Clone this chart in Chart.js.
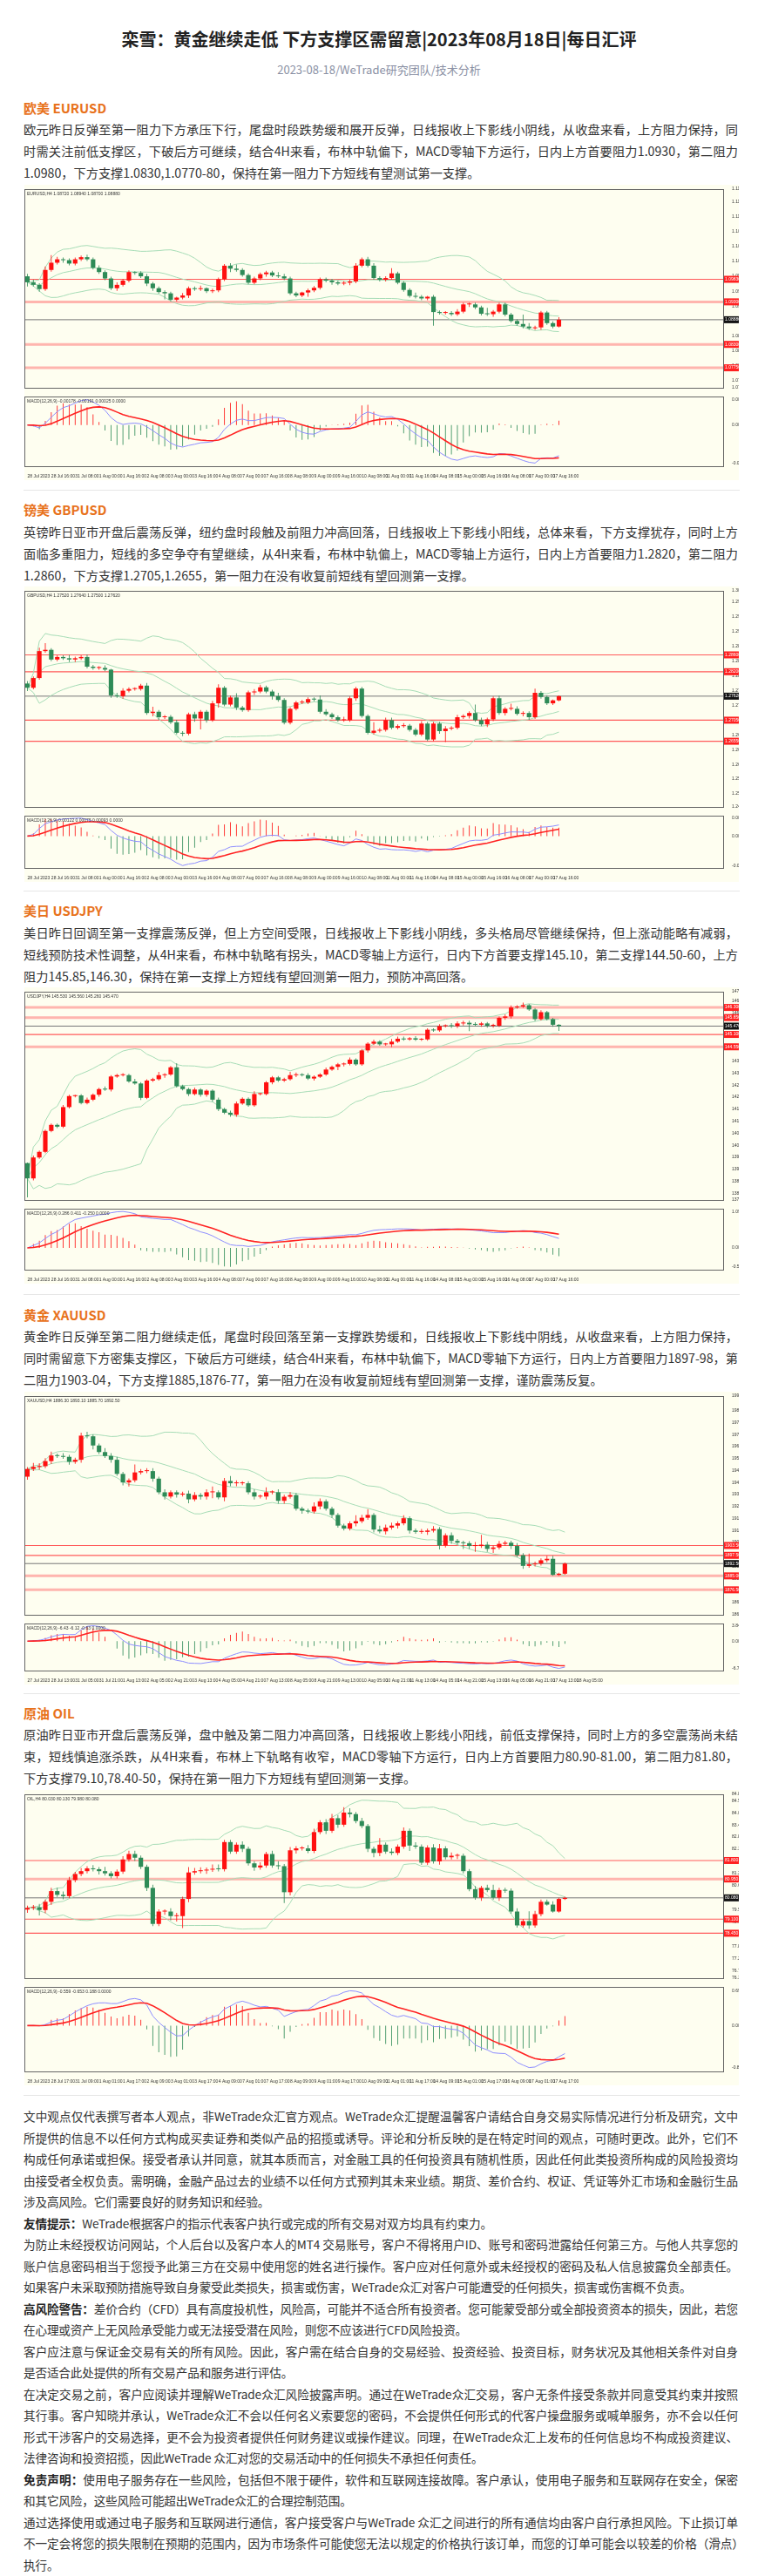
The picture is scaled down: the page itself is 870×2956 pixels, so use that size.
<!DOCTYPE html>
<html><head><meta charset="utf-8">
<script src="https://cdn.jsdelivr.net/npm/chart.js@4/dist/chart.umd.min.js"></script>
<style>
body{margin:0;background:#fff;font-family:"Noto Sans CJK SC","Noto Sans",sans-serif;color:#333;}
#page{position:relative;width:870px;height:2956px;overflow:hidden;}
.abs{position:absolute;left:27px;width:820px;}
.title{top:30px;left:0;width:870px;text-align:center;font-size:20px;font-weight:bold;color:#222;}
.sub{top:70px;left:0;width:870px;text-align:center;font-size:13px;color:#8a90a4;}
.h{font-size:15px;font-weight:bold;color:#e8721c;line-height:25px;}
.p{font-size:14.2px;line-height:25px;text-align:justify;color:#333;}
.disc{font-size:13.6px;letter-spacing:-0.15px;line-height:24.5px;}
.sep{height:1px;background:#e6e6e6;left:27px;width:822px;}
.blk{position:absolute;left:28px;width:820px;background:#fefef0;}
.blk canvas{display:block;}
b{color:#222;}
</style></head><body><div id="page">
<div class="abs title">栾雪：黄金继续走低 下方支撑区需留意|2023年08月18日|每日汇评</div>
<div class="abs sub">2023-08-18/WeTrade研究团队/技术分析</div>

<div class="abs h" style="top:111px">欧美 EURUSD</div>
<div class="abs p" style="top:136px">欧元昨日反弹至第一阻力下方承压下行，尾盘时段跌势缓和展开反弹，日线报收上下影线小阴线，从收盘来看，上方阻力保持，同时需关注前低支撑区，下破后方可继续，结合4H来看，布林中轨偏下，MACD零轴下方运行，日内上方首要阻力1.0930，第二阻力1.0980，下方支撑1.0830,1.0770-80，保持在第一阻力下方短线有望测试第一支撑。</div>
<div class="blk" style="top:212px"><canvas id="m0" width="820" height="238"></canvas><canvas id="d0" width="820" height="101"></canvas></div>
<div class="abs sep" style="top:562px"></div>

<div class="abs h" style="top:572px">镑美 GBPUSD</div>
<div class="abs p" style="top:598px">英镑昨日亚市开盘后震荡反弹，纽约盘时段触及前阻力冲高回落，日线报收上下影线小阳线，总体来看，下方支撑犹存，同时上方面临多重阻力，短线的多空争夺有望继续，从4H来看，布林中轨偏上，MACD零轴上方运行，日内上方首要阻力1.2820，第二阻力1.2860，下方支撑1.2705,1.2655，第一阻力在没有收复前短线有望回测第一支撑。</div>
<div class="blk" style="top:673px"><canvas id="m1" width="820" height="258"></canvas><canvas id="d1" width="820" height="81"></canvas></div>
<div class="abs sep" style="top:1022px"></div>

<div class="abs h" style="top:1032px">美日 USDJPY</div>
<div class="abs p" style="top:1058px">美日昨日回调至第一支撑震荡反弹，但上方空间受限，日线报收上下影线小阴线，多头格局尽管继续保持，但上涨动能略有减弱，短线预防技术性调整，从4H来看，布林中轨略有拐头，MACD零轴上方运行，日内下方首要支撑145.10，第二支撑144.50-60，上方阻力145.85,146.30，保持在第一支撑上方短线有望回测第一阻力，预防冲高回落。</div>
<div class="blk" style="top:1133px"><canvas id="m2" width="820" height="249"></canvas><canvas id="d2" width="820" height="91"></canvas></div>
<div class="abs sep" style="top:1485px"></div>

<div class="abs h" style="top:1496px">黄金 XAUUSD</div>
<div class="abs p" style="top:1521px">黄金昨日反弹至第二阻力继续走低，尾盘时段回落至第一支撑跌势缓和，日线报收上下影线中阴线，从收盘来看，上方阻力保持，同时需留意下方密集支撑区，下破后方可继续，结合4H来看，布林中轨偏下，MACD零轴下方运行，日内上方首要阻力1897-98，第二阻力1903-04，下方支撑1885,1876-77，第一阻力在没有收复前短线有望回测第一支撑，谨防震荡反复。</div>
<div class="blk" style="top:1597px"><canvas id="m3" width="820" height="261"></canvas><canvas id="d3" width="820" height="75"></canvas></div>
<div class="abs sep" style="top:1943px"></div>

<div class="abs h" style="top:1953px">原油 OIL</div>
<div class="abs p" style="top:1978px">原油昨日亚市开盘后震荡反弹，盘中触及第二阻力冲高回落，日线报收上影线小阳线，前低支撑保持，同时上方的多空震荡尚未结束，短线慎追涨杀跌，从4H来看，布林上下轨略有收窄，MACD零轴下方运行，日内上方首要阻力80.90-81.00，第二阻力81.80，下方支撑79.10,78.40-50，保持在第一阻力下方短线有望回测第一支撑。</div>
<div class="blk" style="top:2054px"><canvas id="m4" width="820" height="221"></canvas><canvas id="d4" width="820" height="118"></canvas></div>
<div class="abs sep" style="top:2404px"></div>

<div class="abs p disc" style="top:2416px">文中观点仅代表撰写者本人观点，非WeTrade众汇官方观点。WeTrade众汇提醒温馨客户请结合自身交易实际情况进行分析及研究，文中所提供的信息不以任何方式构成买卖证券和类似产品的招揽或诱导。评论和分析反映的是在特定时间的观点，可随时更改。此外，它们不构成任何承诺或担保。接受者承认并同意，就其本质而言，对金融工具的任何投资具有随机性质，因此任何此类投资所构成的风险投资均由接受者全权负责。需明确，金融产品过去的业绩不以任何方式预判其未来业绩。期货、差价合约、权证、凭证等外汇市场和金融衍生品涉及高风险。它们需要良好的财务知识和经验。<br>
<b>友情提示：</b>WeTrade根据客户的指示代表客户执行或完成的所有交易对双方均具有约束力。<br>
为防止未经授权访问网站，个人后台以及客户本人的MT4 交易账号，客户不得将用户ID、账号和密码泄露给任何第三方。与他人共享您的账户信息密码相当于您授予此第三方在交易中使用您的姓名进行操作。客户应对任何意外或未经授权的密码及私人信息披露负全部责任。如果客户未采取预防措施导致自身蒙受此类损失，损害或伤害，WeTrade众汇对客户可能遭受的任何损失，损害或伤害概不负责。<br>
<b>高风险警告：</b>差价合约（CFD）具有高度投机性，风险高，可能并不适合所有投资者。您可能蒙受部分或全部投资资本的损失，因此，若您在心理或资产上无风险承受能力或无法接受潜在风险，则您不应该进行CFD风险投资。<br>
客户应注意与保证金交易有关的所有风险。因此，客户需在结合自身的交易经验、投资经验、投资目标，财务状况及其他相关条件对自身是否适合此处提供的所有交易产品和服务进行评估。<br>
在决定交易之前，客户应阅读并理解WeTrade众汇风险披露声明。通过在WeTrade众汇交易，客户无条件接受条款并同意受其约束并按照其行事。客户知晓并承认，WeTrade众汇不会以任何名义索要您的密码，不会提供任何形式的代客户操盘服务或喊单服务，亦不会以任何形式干涉客户的交易选择，更不会为投资者提供任何财务建议或操作建议。同理，在WeTrade众汇上发布的任何信息均不构成投资建议、法律咨询和投资招揽，因此WeTrade 众汇对您的交易活动中的任何损失不承担任何责任。<br>
<b>免责声明：</b>使用电子服务存在一些风险，包括但不限于硬件，软件和互联网连接故障。客户承认，使用电子服务和互联网存在安全，保密和其它风险，这些风险可能超出WeTrade众汇的合理控制范围。<br>
通过选择使用或通过电子服务和互联网进行通信，客户接受客户与WeTrade 众汇之间进行的所有通信均由客户自行承担风险。下止损订单不一定会将您的损失限制在预期的范围内，因为市场条件可能使您无法以规定的价格执行该订单，而您的订单可能会以较差的价格（滑点）执行。</div>
</div>
<script>
// ---------- DATA ----------
const eurOpen0 = 1.0990;
const eurCloses = [1.0976,1.0970,1.0960,1.1005,1.1022,1.1030,1.1028,1.1020,1.1030,1.1035,1.1030,1.1010,1.1000,1.0985,1.0962,1.0970,1.0980,1.1000,1.0998,1.0990,1.0973,1.0962,1.0953,1.0950,1.0935,1.0940,1.0945,1.0962,1.0960,1.0962,1.0955,1.0957,1.0983,1.1015,1.1008,1.1005,1.0993,1.0975,1.0985,1.0995,1.0999,1.0992,1.0990,1.0985,1.0950,1.0945,1.0952,1.0957,1.0963,1.0983,1.0980,1.0976,1.0973,1.0975,1.0978,1.1015,1.1030,1.1015,1.0986,1.0982,1.0986,1.0997,1.0975,1.0958,1.0944,1.0942,1.0938,1.0942,1.0906,1.0904,1.0904,1.0901,1.0907,1.0924,1.0924,1.0917,1.0902,1.0901,1.0907,1.0924,1.0900,1.0885,1.0878,1.0872,1.0868,1.0870,1.0905,1.0880,1.0872,1.0888];
const eurWickUp = "33249322223232232212322221322312223522222243221222222223233226222421222232222722222b422223";
const eurWickDn = "52322232222222232222332722232222224222223222222522232232222222222222g22222322232222222322";
const eurLevels = [1.0983,1.0930,1.0830,1.0775];
const eurTicks = ["28 Jul 2023","28 Jul 16:00","31 Jul 08:00","1 Aug 00:00","1 Aug 16:00","2 Aug 08:00","3 Aug 00:00","3 Aug 16:00","4 Aug 08:00","7 Aug 00:00","7 Aug 16:00","8 Aug 08:00","9 Aug 00:00","9 Aug 16:00","10 Aug 08:00","11 Aug 00:00","11 Aug 16:00","14 Aug 08:00","15 Aug 00:00","15 Aug 16:00","16 Aug 08:00","17 Aug 00:00","17 Aug 16:00"];

const gbpOpen0 = 1.2792;
const gbpCloses = [1.2782,1.2805,1.2869,1.2872,1.2849,1.2855,1.2852,1.2849,1.2852,1.2855,1.2832,1.2829,1.2829,1.2825,1.2764,1.2762,1.2775,1.2779,1.2779,1.2787,1.2722,1.2725,1.2712,1.2713,1.2700,1.2675,1.2673,1.2719,1.2709,1.2725,1.2705,1.2745,1.2782,1.2742,1.2759,1.2735,1.2729,1.2771,1.2773,1.2783,1.2773,1.2762,1.2753,1.2699,1.2732,1.2747,1.2747,1.2755,1.2754,1.2725,1.2719,1.2712,1.2705,1.2705,1.2757,1.2780,1.2715,1.2675,1.2680,1.2682,1.2705,1.2687,1.2691,1.2692,1.2682,1.2671,1.2697,1.2659,1.2697,1.2679,1.2685,1.2687,1.2712,1.2715,1.2722,1.2705,1.2695,1.2707,1.2757,1.2722,1.2732,1.2732,1.2720,1.2722,1.2712,1.2770,1.2760,1.2745,1.2752,1.2762];
const gbpWickUp = "3248222422322313322236222322322342252233224222322532242222a2332322322232322a322326322522";
const gbpWickDn = "42222223322222323222243222324d3252232232242222222222222322222222222223d222322322322332222";
const gbpLevels = [1.2860,1.2820,1.2705,1.2655];
const gbpTicks = eurTicks;

const jpyOpen0 = 139.38;
const jpyCloses = [138.70,139.63,139.88,140.81,141.08,141.00,141.87,142.36,142.39,142.05,142.20,142.42,142.67,142.65,143.23,143.29,143.29,143.01,142.92,142.28,143.05,143.11,143.29,143.32,143.64,142.80,142.67,142.45,142.65,142.42,142.60,142.20,141.78,141.62,141.53,142.03,142.24,141.95,142.45,142.45,142.97,143.19,143.05,143.11,143.29,143.32,143.29,143.14,143.22,143.32,143.54,143.66,143.77,143.79,143.98,143.77,144.39,144.69,144.78,144.66,144.66,144.78,144.91,144.88,144.93,144.87,144.88,145.31,145.28,145.47,145.49,145.47,145.59,145.62,145.55,145.53,145.59,145.49,145.49,145.84,145.90,146.30,146.34,146.40,146.21,145.78,146.09,145.78,145.53,145.47];
const jpyWickUp = "13222232123224223242225226223222323322422222532322322232223224332322232433332232332422322";
const jpyWickDn = "s3222222222232322223222422232333323322222322232232225322232224222222222333a233323322232237";
const jpyLevels = [146.30,145.85,145.10,144.55];
const jpyTicks = eurTicks;

const xauOpen0 = 1945.4;
const xauCloses = [1950.1,1951.4,1951.8,1954.9,1958.3,1958.0,1957.5,1954.5,1955.7,1970.4,1970.0,1964.4,1960.4,1958.0,1955.7,1947.1,1941.9,1943.2,1948.0,1948.8,1948.8,1944.2,1935.9,1933.3,1935.9,1934.5,1935.1,1931.6,1934.2,1933.3,1935.9,1935.9,1932.8,1942.8,1941.4,1941.4,1941.4,1935.9,1933.3,1933.3,1935.9,1935.9,1930.7,1933.2,1934.2,1925.9,1924.7,1924.2,1927.3,1930.4,1925.9,1922.1,1915.6,1913.8,1917.0,1918.3,1920.4,1922.1,1913.2,1912.1,1914.4,1915.6,1917.0,1920.1,1912.6,1911.8,1911.8,1912.6,1913.5,1903.5,1909.7,1906.3,1905.2,1904.9,1903.2,1903.2,1904.0,1901.4,1902.3,1904.5,1905.2,1903.2,1897.6,1891.1,1892.0,1892.5,1894.5,1895.4,1885.6,1886.3,1892.5];
const xauWickUp = "2433423223422433228233232223323623532232523232224322222636243323223232232224a3232232b2233";
const xauWickDn = "3232322323242232342223232324233624332232323322322323222322323232322324232636234223232222";
const xauLevels = [1903.5,1897.5,1885.0,1876.5];
const xauTicks = ["27 Jul 2023","28 Jul 13:00","31 Jul 05:00","31 Jul 21:00","1 Aug 13:00","2 Aug 05:00","2 Aug 21:00","3 Aug 13:00","4 Aug 05:00","4 Aug 21:00","7 Aug 13:00","8 Aug 05:00","8 Aug 21:00","9 Aug 13:00","10 Aug 05:00","10 Aug 21:00","11 Aug 13:00","14 Aug 05:00","14 Aug 21:00","15 Aug 13:00","16 Aug 05:00","16 Aug 21:00","17 Aug 13:00","18 Aug 05:00"];

const oilOpen0 = 79.54;
const oilCloses = [79.62,79.65,79.52,79.90,80.39,80.22,80.16,80.90,81.18,81.31,81.44,81.40,81.31,81.21,81.08,81.29,81.85,82.10,81.93,81.51,80.54,78.88,79.45,79.45,79.24,79.24,80.03,81.25,81.31,81.34,81.38,81.42,81.40,82.65,82.21,82.53,82.34,81.67,81.48,81.57,82.10,81.57,81.54,80.34,82.27,82.36,82.36,82.24,83.11,83.56,83.17,83.75,83.45,84.01,83.94,83.62,83.39,82.34,82.15,82.53,82.21,82.15,82.44,83.17,82.49,82.44,81.70,82.40,81.76,82.36,81.95,82.02,82.02,81.31,80.48,80.09,80.54,80.44,80.09,80.44,80.41,79.45,78.81,79.01,78.81,79.33,79.90,79.77,79.45,80.03,80.08];
const oilWickUp = "22323333232324223332232233253324422232232342322332343542322623232322342322232352223293223";
const oilWickDn = "32533232222232222232322345b3223222223232223a3322223232322343222252222322322232232222322";
const oilLevels = [81.80,80.95,79.10,78.45];
const oilTicks = ["28 Jul 2023","28 Jul 17:00","31 Jul 09:00","1 Aug 01:00","1 Aug 17:00","2 Aug 09:00","3 Aug 01:00","3 Aug 17:00","4 Aug 09:00","7 Aug 01:00","7 Aug 17:00","8 Aug 09:00","9 Aug 01:00","9 Aug 17:00","10 Aug 09:00","11 Aug 01:00","11 Aug 17:00","14 Aug 09:00","15 Aug 01:00","15 Aug 17:00","16 Aug 09:00","17 Aug 01:00","17 Aug 17:00"];

// ---------- CONFIG (styles/sizes) ----------
const CFG = [
 {id:0,name:"EURUSD,H4",open0:eurOpen0,closes:eurCloses,up:eurWickUp,dn:eurWickDn,unit:0.0002,levels:eurLevels,thick:[0,1,1,1],ticks:eurTicks,ymin:1.0728,ymax:1.1195,step:0.0035,dec:5},
 {id:1,name:"GBPUSD,H4",open0:gbpOpen0,closes:gbpCloses,up:gbpWickUp,dn:gbpWickDn,unit:0.0002,levels:gbpLevels,thick:[0,0,0,0],ticks:gbpTicks,ymin:1.2499,ymax:1.3012,step:0.0035,dec:5},
 {id:2,name:"USDJPY,H4",open0:jpyOpen0,closes:jpyCloses,up:jpyWickUp,dn:jpyWickDn,unit:0.03,levels:jpyLevels,thick:[1,1,0,1],ticks:jpyTicks,ymin:137.74,ymax:147.0,step:0.535,dec:3},
 {id:3,name:"XAUUSD,H4",open0:xauOpen0,closes:xauCloses,up:xauWickUp,dn:xauWickDn,unit:0.6,levels:xauLevels,thick:[0,0,1,1],ticks:xauTicks,ymin:1861.3,ymax:1994.5,step:7.3,dec:2},
 {id:4,name:"OIL,H4",open0:oilOpen0,closes:oilCloses,up:oilWickUp,dn:oilWickDn,unit:0.05,levels:oilLevels,thick:[0,1,0,0],ticks:oilTicks,ymin:76.38,ymax:84.85,step:0.56,dec:3}
];
const SLOTS = 117, UPC='#ff1010', DNC='#2e8b57', BB='#a6dcb6';

function ema(a,n){const k=2/(n+1);let r=[],p=a[0];a.forEach((v,i)=>{p=i?v*k+p*(1-k):v;r.push(p);});return r;}
function fixW(s){s.width=18;}

CFG.forEach(c=>{
  const n=c.closes.length;
  const opens=c.closes.map((v,i)=>i?c.closes[i-1]:c.open0);
  const hi=c.closes.map((v,i)=>Math.max(v,opens[i])+parseInt(c.up[i]||'1',36)*c.unit);
  const lo=c.closes.map((v,i)=>Math.min(v,opens[i])-parseInt(c.dn[i]||'1',36)*c.unit);
  const cols=c.closes.map((v,i)=>v>=opens[i]?UPC:DNC);
  const labels=[];for(let i=0;i<SLOTS;i++)labels.push(i%4===0&&c.ticks[i/4]?c.ticks[i/4]:'');
  const mid=[],upB=[],loB=[];
  c.closes.forEach((v,i)=>{const w=c.closes.slice(Math.max(0,i-19),i+1);const m=w.reduce((a,b)=>a+b,0)/w.length;const sd=Math.sqrt(w.reduce((a,b)=>a+(b-m)*(b-m),0)/w.length);mid.push(m);upB.push(m+2*sd);loB.push(m-2*sd);});
  const last=c.closes[n-1];
  const lvlPlugin={id:'lv'+c.id,beforeDatasetsDraw(ch){const y=ch.scales.y,a=ch.chartArea,x=ch.ctx;x.save();
      c.levels.forEach((L,j)=>{const py=y.getPixelForValue(L);x.strokeStyle=c.thick[j]?'rgba(255,120,120,0.55)':'#ff5a5a';x.lineWidth=c.thick[j]?3:1.2;x.beginPath();x.moveTo(a.left,py);x.lineTo(a.right,py);x.stroke();});
      const py=y.getPixelForValue(last);x.strokeStyle='#777';x.lineWidth=1;x.beginPath();x.moveTo(a.left,py);x.lineTo(a.right,py);x.stroke();x.restore();},
    afterDraw(ch){const y=ch.scales.y,a=ch.chartArea,x=ch.ctx;x.save();x.font='5px sans-serif';x.textBaseline='middle';
      c.levels.forEach(L=>{const py=y.getPixelForValue(L);x.fillStyle='#ff2020';x.fillRect(a.right+1,py-4,17,8);x.fillStyle='#fff';x.fillText(L.toFixed(c.dec),a.right+2,py);});
      const py=y.getPixelForValue(last);x.fillStyle='#111';x.fillRect(a.right+1,py-4,17,8);x.fillStyle='#fff';x.fillText(last.toFixed(c.dec),a.right+2,py);
      x.strokeStyle='#666';x.lineWidth=1;x.strokeRect(a.left+0.5,a.top+0.5,a.right-a.left,a.bottom-a.top);
      x.fillStyle='#333';x.font='5px sans-serif';x.fillText(c.name+' '+[opens[n-1],hi[n-1],lo[n-1],last].map(v=>v.toFixed(c.dec)).join(' '),a.left+3,a.top+6);x.restore();}};
  new Chart(document.getElementById('m'+c.id),{type:'bar',
    data:{labels,datasets:[
      {type:'line',data:upB,borderColor:BB,borderWidth:1,pointRadius:0,order:5},
      {type:'line',data:mid,borderColor:BB,borderWidth:1,pointRadius:0,order:5},
      {type:'line',data:loB,borderColor:BB,borderWidth:1,pointRadius:0,order:5},
      {data:lo.map((v,i)=>[v,hi[i]]),backgroundColor:cols,barPercentage:0.12,categoryPercentage:1,grouped:false,order:3},
      {data:opens.map((v,i)=>[v,c.closes[i]]),backgroundColor:cols,barPercentage:0.75,categoryPercentage:1,grouped:false,minBarLength:1,order:1}]},
    options:{responsive:false,animation:false,events:[],layout:{padding:{top:1,bottom:1,left:0,right:0}},
      plugins:{legend:{display:false},tooltip:{enabled:false}},
      scales:{x:{display:false,offset:true},
        y:{position:'right',min:c.ymin,max:c.ymax,afterFit:fixW,grid:{display:false},border:{display:false},
          ticks:{stepSize:c.step,font:{size:5},color:'#333',padding:2,callback:v=>(+v).toFixed(c.dec)}}}},
    plugins:[lvlPlugin]});
  const e12=ema(c.closes,12),e26=ema(c.closes,26);const macd=e12.map((v,i)=>v-e26[i]);const sig=ema(macd,9);const hist=macd.map((v,i)=>(v-sig[i])*2);
  const all=macd.concat(sig,hist);const mx=Math.max(...all),mn=Math.min(...all);const pad=(mx-mn)*0.05;
  const frame={id:'fr'+c.id,afterDraw(ch){const a=ch.chartArea,x=ch.ctx;x.save();x.strokeStyle='#666';x.lineWidth=1;x.strokeRect(a.left+0.5,a.top+0.5,a.right-a.left,a.bottom-a.top);
    x.fillStyle='#333';x.font='5px sans-serif';x.textBaseline='middle';x.fillText('MACD(12,26,9) '+[macd[n-1],sig[n-1],hist[n-1]].map(v=>v.toFixed(c.dec)).join(' ')+' 0.0000',a.left+3,a.top+6);x.restore();}};
  new Chart(document.getElementById('d'+c.id),{type:'bar',
    data:{labels,datasets:[
      {type:'line',data:macd,borderColor:'#8d8dff',borderWidth:1,pointRadius:0,order:1},
      {type:'line',data:sig,borderColor:'#ff2222',borderWidth:1.6,pointRadius:0,order:0},
      {data:hist,backgroundColor:hist.map(v=>v>=0?UPC:DNC),barPercentage:0.12,categoryPercentage:1,order:3}]},
    options:{responsive:false,animation:false,events:[],layout:{padding:{top:3,bottom:0,left:0,right:0}},
      plugins:{legend:{display:false},tooltip:{enabled:false}},
      scales:{x:{offset:true,grid:{display:false},border:{display:false},ticks:{autoSkip:false,maxRotation:0,font:{size:5},color:'#333',padding:1,align:'start'}},
        y:{position:'right',min:mn-pad,max:mx+pad,afterFit:fixW,grid:{display:false},border:{display:false},
          afterBuildTicks(s){s.ticks=[{value:mx},{value:0},{value:mn}];},
          ticks:{font:{size:5},color:'#333',padding:2,callback:v=>v===0?'0.00':(+v).toFixed(c.dec)}}}},
    plugins:[frame]});
});
</script></body></html>
